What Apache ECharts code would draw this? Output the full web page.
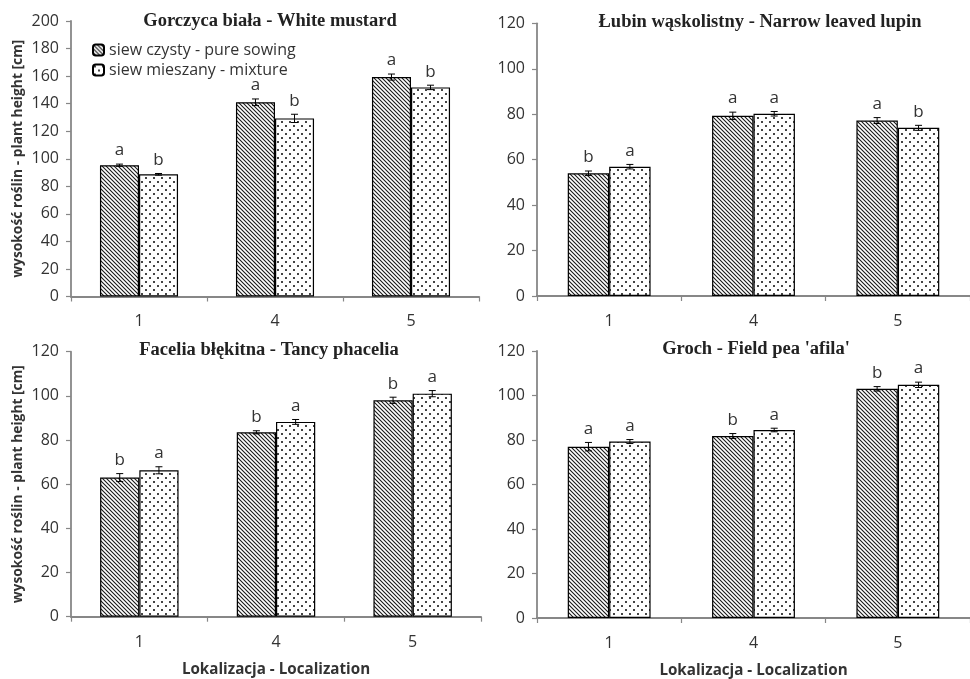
<!DOCTYPE html>
<html>
<head>
<meta charset="utf-8">
<script src="https://cdn.jsdelivr.net/npm/echarts@6/dist/echarts.min.js"></script>
<style>html,body{margin:0;padding:0;background:#fff}#c{width:970px;height:679px}</style>
</head>
<body>
<div id="c"></div>
<script>
// ---- data ----
const categories = ['1', '4', '5'];
const seriesNames = ['siew czysty - pure sowing', 'siew mieszany - mixture'];
const titles = ['Gorczyca biała - White mustard', 'Łubin wąskolistny - Narrow leaved lupin', 'Facelia błękitna - Tancy phacelia', "Groch - Field pea 'afila'"];
const yMax = [200, 120, 120, 120];

const mustardPure = [95.3, 141.0, 159.3];
const mustardPureErr = [0.8, 2.4, 2.2];
const mustardPureLetters = ['a', 'a', 'a'];
const mustardMix = [88.7, 129.3, 151.8];
const mustardMixErr = [0.6, 3.0, 1.6];
const mustardMixLetters = ['b', 'b', 'b'];

const lupinPure = [54.0, 79.3, 77.2];
const lupinPureErr = [1.0, 1.6, 1.3];
const lupinPureLetters = ['b', 'a', 'a'];
const lupinMix = [56.9, 80.2, 74.0];
const lupinMixErr = [1.0, 1.0, 1.1];
const lupinMixLetters = ['a', 'a', 'b'];

const phaceliaPure = [63.0, 83.5, 98.0];
const phaceliaPureErr = [1.8, 0.7, 1.4];
const phaceliaPureLetters = ['b', 'b', 'b'];
const phaceliaMix = [66.3, 88.2, 101.0];
const phaceliaMixErr = [1.6, 1.1, 1.4];
const phaceliaMixLetters = ['a', 'a', 'a'];

const peaPure = [77.0, 81.8, 103.0];
const peaPureErr = [1.9, 1.1, 1.0];
const peaPureLetters = ['a', 'b', 'b'];
const peaMix = [79.3, 84.5, 104.8];
const peaMixErr = [0.9, 0.8, 1.2];
const peaMixLetters = ['a', 'a', 'a'];

// ---- build ----
const panelData = [
  [mustardPure, mustardPureErr, mustardPureLetters, mustardMix, mustardMixErr, mustardMixLetters],
  [lupinPure, lupinPureErr, lupinPureLetters, lupinMix, lupinMixErr, lupinMixLetters],
  [phaceliaPure, phaceliaPureErr, phaceliaPureLetters, phaceliaMix, phaceliaMixErr, phaceliaMixLetters],
  [peaPure, peaPureErr, peaPureLetters, peaMix, peaMixErr, peaMixLetters]
];

const grids = [
  {left: 71, top: 21, width: 408, height: 275.5},
  {left: 537, top: 23.3, width: 444, height: 272.7},
  {left: 71, top: 351.7, width: 410, height: 265},
  {left: 537, top: 351, width: 443, height: 269}
];
const titlePos = [[270, 12], [760, 13], [269, 341], [756, 340]];
const labelMargins = [17, 17, 18, 17];
const GAP = 0.426;
const AXIS_COLOR = '#878787';
const TEXT_COLOR = '#333';
const FONT = '"Open Sans", "Noto Sans", sans-serif';

function makeStripe() {
  const s = 4, c = document.createElement('canvas');
  c.width = s; c.height = s;
  const g = c.getContext('2d');
  g.fillStyle = '#fff'; g.fillRect(0, 0, s, s);
  g.strokeStyle = '#1a1a1a'; g.lineWidth = 1.1;
  g.beginPath();
  g.moveTo(-1, -1); g.lineTo(s + 1, s + 1);
  g.moveTo(-1, s - 1); g.lineTo(1, s + 1);
  g.moveTo(s - 1, -1); g.lineTo(s + 1, 1);
  g.stroke();
  return c;
}
function makeDots() {
  const s = 8, c = document.createElement('canvas');
  c.width = s; c.height = s;
  const g = c.getContext('2d');
  g.fillStyle = '#fff'; g.fillRect(0, 0, s, s);
  g.fillStyle = '#444';
  g.fillRect(1, 1, 2, 2);
  g.fillRect(5, 5, 2, 2);
  return c;
}
const patterns = [{image: makeStripe(), repeat: 'repeat'}, {image: makeDots(), repeat: 'repeat'}];

function errRender(sign, errs, letters) {
  return function (params, api) {
    const ci = api.value(0), v = api.value(1), e = errs[params.dataIndex];
    const catW = api.size([1, 0])[0];
    const bw = catW * (1 - GAP) / 2;
    const x = api.coord([ci, v])[0] + sign * bw / 2;
    const yT = api.coord([ci, v + e])[1], yB = api.coord([ci, v - e])[1];
    const c = 3.5, st = {stroke: '#000', lineWidth: 1};
    return {type: 'group', children: [
      {type: 'line', shape: {x1: x, y1: yT, x2: x, y2: yB}, style: st},
      {type: 'line', shape: {x1: x - c, y1: yT, x2: x + c, y2: yT}, style: st},
      {type: 'line', shape: {x1: x - c, y1: yB, x2: x + c, y2: yB}, style: st},
      {type: 'text', style: {text: letters[params.dataIndex], x: x, y: yT - 5, align: 'center', verticalAlign: 'bottom',
        fill: TEXT_COLOR, fontSize: 17, fontFamily: FONT}}
    ]};
  };
}

const option = {
  animation: false,
  backgroundColor: '#fff',
  title: titles.map((t, i) => ({text: t, left: titlePos[i][0], top: titlePos[i][1], textAlign: 'center', padding: 0,
    textStyle: {fontFamily: '"Liberation Serif", "DejaVu Serif", serif', fontWeight: 'bold', fontSize: 18.5, color: '#222'}})),
  legend: {
    data: seriesNames, orient: 'vertical', left: 87, top: 37, itemWidth: 11, itemHeight: 11, itemGap: 4,
    textStyle: {fontFamily: FONT, fontSize: 16, color: TEXT_COLOR}, selectedMode: false
  },
  grid: grids,
  xAxis: grids.map((g, i) => ({
    type: 'category', gridIndex: i, data: categories,
    axisLine: {lineStyle: {color: AXIS_COLOR, width: 1.8}},
    axisTick: {show: true, length: 5, lineStyle: {color: AXIS_COLOR, width: 1.2}},
    axisLabel: {margin: labelMargins[i], fontFamily: FONT, fontSize: 16, color: TEXT_COLOR},
    name: i >= 2 ? 'Lokalizacja - Localization' : '', nameLocation: 'middle', nameGap: 45,
    nameTextStyle: {fontFamily: FONT, fontSize: 15.2, fontWeight: 'bold', color: TEXT_COLOR}
  })),
  yAxis: grids.map((g, i) => ({
    type: 'value', gridIndex: i, min: 0, max: yMax[i], interval: 20,
    axisLine: {show: true, lineStyle: {color: AXIS_COLOR, width: 1.8}},
    axisTick: {show: true, length: 5, lineStyle: {color: AXIS_COLOR, width: 1.2}},
    splitLine: {show: false},
    axisLabel: {margin: 12, fontFamily: FONT, fontSize: 16, color: TEXT_COLOR},
    name: (i % 2 === 0) ? 'wysokość roślin - plant height [cm]' : '', nameLocation: 'middle', nameGap: 46,
    nameTextStyle: {fontFamily: FONT, fontSize: 13.8, fontWeight: 'bold', color: TEXT_COLOR}
  })),
  series: []
};

panelData.forEach((pd, i) => {
  [0, 1].forEach(k => {
    option.series.push({
      type: 'bar', name: seriesNames[k], xAxisIndex: i, yAxisIndex: i,
      data: pd[k * 3], barGap: '0%', barCategoryGap: (GAP * 100) + '%',
      itemStyle: {color: patterns[k], borderColor: '#000', borderWidth: 1.2},
      z: 2
    });
  });
  [0, 1].forEach(k => {
    option.series.push({
      type: 'custom', name: 'err' + i + k, xAxisIndex: i, yAxisIndex: i, z: 5, clip: false,
      data: pd[k * 3].map((v, j) => [j, v]), encode: {x: 0, y: 1},
      renderItem: errRender(k === 0 ? -1 : 1, pd[k * 3 + 1], pd[k * 3 + 2])
    });
  });
});

const chart = echarts.init(document.getElementById('c'), null, {renderer: 'canvas'});
chart.setOption(option);
</script>
</body>
</html>
